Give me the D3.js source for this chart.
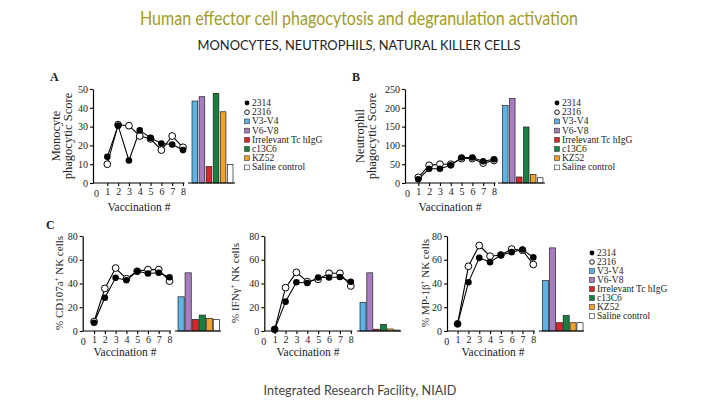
<!DOCTYPE html>
<html><head><meta charset="utf-8">
<script src="https://cdn.jsdelivr.net/npm/d3@7"></script>
<style>
html,body{margin:0;padding:0;background:#fff;}
svg{display:block;}
</style></head>
<body>
<script>
// ---------- DATA ----------
const vaccinations = [1,2,3,4,5,6,7,8];
const xTickLabels = [0,1,2,3,4,5,6,7,8];
const barCategories = ["V3-V4","V6-V8","Irrelevant Tc hIgG","c13C6","KZ52","Saline control"];
const legendLabels = ["2314","2316","V3-V4","V6-V8","Irrelevant Tc hIgG","c13C6","KZ52","Saline control"];

// Panel A: Monocyte phagocytic score
const monoTicks = [0,10,20,30,40,50];
const mono2314 = [14,30.5,12,28,24,21,20.5,17.5];
const mono2316 = [10,31,30.5,25,23.5,17.5,25,19];
const monoBars = [43.6,45.9,8.7,47.7,37.9,9.9];

// Panel B: Neutrophil phagocytic score
const neutTicks = [0,50,100,150,200,250];
const neut2314 = [10,38,38,47,68,68,58,63];
const neut2316 = [15,47,50,50,65,65,53,60];
const neutBars = [206,225,16,149,23,14];

// Panel C: NK cells
const nkTicks = [0,20,40,60,80];
const cd107a2314 = [7,28,44.8,42.8,50.3,48.4,49,45.3];
const cd107a2316 = [8,35.8,53,44,50.3,51.7,51.7,42];
const cd107aBars = [28.8,49,9.8,13.4,10.6,9.6];

const ifng2314 = [1.4,24.7,41,40.4,45,45,45.5,41.5];
const ifng2316 = [1.4,36.5,49.4,41.5,43.5,48.6,48.6,37.9];
const ifngBars = [24,49,1.5,5.6,1.7,0.8];

const mip2314 = [6,41,61.6,58,64,66.4,68.6,62];
const mip2316 = [6,54.5,72,63,64,69,68,56];
const mipBars = [42.4,70,7,13,7,7];

// ---------- STYLE ----------
const barColors = ["#5cb3e4","#a77dc0","#d9262b","#17803f","#f0a12e","#ffffff"];
const serif = "'Liberation Serif','DejaVu Serif',serif";

const W = 717, H = 419;
const svg = d3.select("body").append("svg").attr("width",W).attr("height",H);

// titles
svg.append("text").attr("x",359).attr("y",25).attr("text-anchor","middle")
  .attr("font-family","Lato,'Open Sans',sans-serif").attr("font-size",20)
  .attr("fill","#a39a1f").attr("textLength",438).attr("lengthAdjust","spacingAndGlyphs")
  .text("Human effector cell phagocytosis and degranulation activation");
svg.append("text").attr("x",359).attr("y",50).attr("text-anchor","middle")
  .attr("font-family","Lato,'Open Sans',sans-serif").attr("font-size",13)
  .attr("fill","#222").attr("textLength",323).attr("lengthAdjust","spacingAndGlyphs")
  .text("MONOCYTES, NEUTROPHILS, NATURAL KILLER CELLS");
svg.append("text").attr("x",360).attr("y",395).attr("text-anchor","middle")
  .attr("font-family","Lato,'Open Sans',sans-serif").attr("font-size",13)
  .attr("fill","#444").attr("textLength",193).attr("lengthAdjust","spacingAndGlyphs")
  .text("Integrated Research Facility, NIAID");

function panel(cfg){
  const g = svg.append("g");
  const x = d3.scaleLinear().domain([0,8]).range([cfg.x0, cfg.x8]);
  const y = d3.scaleLinear().domain([0, cfg.ticks[cfg.ticks.length-1]]).range([cfg.yBot, cfg.yTop]);

  // y axis
  const ya = g.append("g").attr("transform",`translate(${cfg.axisX},0)`)
    .call(d3.axisLeft(y).tickValues(cfg.ticks).tickSize(3).tickPadding(2).tickSizeOuter(0));
  ya.select(".domain").attr("stroke","#000").attr("stroke-width",1.2);
  ya.selectAll(".tick line").attr("stroke","#000").attr("stroke-width",1.1);
  ya.selectAll("text").attr("font-family",serif).attr("font-size",10).attr("fill","#222");

  // x axis
  const xa = g.append("g").attr("transform",`translate(0,${cfg.yBot})`)
    .call(d3.axisBottom(x).tickValues(xTickLabels.slice(1)).tickSize(3).tickPadding(2).tickSizeOuter(0).tickFormat(d3.format("d")));
  xa.select(".domain").attr("d",`M${cfg.axisX},0H${cfg.x8+1.5}`).attr("stroke","#000").attr("stroke-width",1.2);
  xa.selectAll(".tick line").attr("stroke","#000").attr("stroke-width",1.1);
  xa.selectAll("text").attr("font-family",serif).attr("font-size",10).attr("fill","#222");
  // the "0" label
  g.append("text").attr("x",x(0)).attr("y",cfg.yBot+14).attr("text-anchor","middle")
    .attr("font-family",serif).attr("font-size",10).attr("fill","#222").text(xTickLabels[0]);

  // lines
  const line = d3.line().x((d,i)=>x(vaccinations[i])).y(d=>y(d));
  g.append("path").datum(cfg.open).attr("d",line).attr("fill","none").attr("stroke","#000").attr("stroke-width",1.1);
  g.append("path").datum(cfg.filled).attr("d",line).attr("fill","none").attr("stroke","#000").attr("stroke-width",1.1);
  g.selectAll("circle.o").data(cfg.open).enter().append("circle")
    .attr("cx",(d,i)=>x(vaccinations[i])).attr("cy",d=>y(d)).attr("r",3.4)
    .attr("fill","#fff").attr("stroke","#000").attr("stroke-width",1);
  g.selectAll("circle.f").data(cfg.filled).enter().append("circle")
    .attr("cx",(d,i)=>x(vaccinations[i])).attr("cy",d=>y(d)).attr("r",3.3)
    .attr("fill","#000");

  // bars
  const xb = d3.scaleBand().domain(barCategories).range([cfg.b0,cfg.b1]).paddingInner(cfg.pad);
  g.selectAll("rect.bar").data(cfg.bars).enter().append("rect")
    .attr("x",(d,i)=>xb(barCategories[i])).attr("width",xb.bandwidth())
    .attr("y",d=>y(d)).attr("height",d=>cfg.yBot-y(d))
    .attr("fill",(d,i)=>barColors[i]).attr("stroke","#222").attr("stroke-width",0.7);
  g.append("line").attr("x1",cfg.bl0).attr("x2",cfg.bl1).attr("y1",cfg.yBot).attr("y2",cfg.yBot)
    .attr("stroke","#000").attr("stroke-width",1.2);

  // axis titles
  g.append("text").attr("x",cfg.xtX).attr("y",cfg.xtY).attr("text-anchor","middle")
    .attr("font-family",serif).attr("font-size",11.5).attr("fill","#222").text("Vaccination #");
  cfg.ylab.forEach((ln,k)=>{
    const t = g.append("text").attr("transform",`translate(${cfg.ylX[k]},${cfg.ylY}) rotate(-90)`)
      .attr("text-anchor","middle").attr("font-family",serif).attr("font-size",cfg.ylFs).attr("fill","#222");
    ln.forEach(part=>{
      const ts = t.append("tspan").text(part.t);
      if(part.sup){ ts.attr("baseline-shift","super").attr("font-size",7); }
    });
  });
  if(cfg.letter){
    g.append("text").attr("x",cfg.letter[1]).attr("y",cfg.letter[2]).attr("font-family",serif)
      .attr("font-size",12).attr("font-weight","bold").attr("fill","#222").text(cfg.letter[0]);
  }
  if(cfg.leg){ legend(cfg.leg); }
}

function legend(L){
  const g = svg.append("g");
  legendLabels.forEach((lab,i)=>{
    const yy = L.y + i*L.step;
    if(i===0){
      g.append("circle").attr("cx",L.x).attr("cy",yy-3).attr("r",2.4).attr("fill","#000");
    } else if(i===1){
      g.append("circle").attr("cx",L.x).attr("cy",yy-3).attr("r",2.3).attr("fill","#fff").attr("stroke","#000").attr("stroke-width",0.9);
    } else {
      g.append("rect").attr("x",L.x-2.4).attr("y",yy-5.4).attr("width",4.8).attr("height",4.8)
        .attr("fill",barColors[i-2]).attr("stroke","#333").attr("stroke-width",0.6);
    }
    g.append("text").attr("x",L.x+5).attr("y",yy).attr("font-family",serif).attr("font-size",L.fs)
      .attr("fill","#222").text(lab);
  });
}

panel({axisX:93,x0:96.5,x8:183,yTop:89,yBot:183,ticks:monoTicks,open:mono2316,filled:mono2314,bars:monoBars,
  b0:192,b1:233,pad:0.2,bl0:188,bl1:235,xtX:139,xtY:211,
  ylab:[[{t:"Monocyte"}],[{t:"phagocytic Score"}]],ylX:[60,72],ylY:136,ylFs:12.5,letter:["A",50,81],
  leg:{x:247,y:106,step:9.2,fs:9.5}});
panel({axisX:405,x0:407.5,x8:494,yTop:89,yBot:183,ticks:neutTicks,open:neut2316,filled:neut2314,bars:neutBars,
  b0:502.5,b1:543,pad:0.2,bl0:498,bl1:545,xtX:450,xtY:211,
  ylab:[[{t:"Neutrophil"}],[{t:"phagocytic Score"}]],ylX:[364,376],ylY:136,ylFs:12.5,letter:["B",352,81],
  leg:{x:557,y:106,step:9.2,fs:9.5}});
panel({axisX:82.7,x0:83.3,x8:169.5,yTop:236,yBot:331,ticks:nkTicks,open:cd107a2316,filled:cd107a2314,bars:cd107aBars,
  b0:178,b1:219.5,pad:0.12,bl0:175,bl1:221,xtX:125,xtY:356,
  ylab:[[{t:"% CD107a"},{t:"+",sup:true},{t:" NK cells"}]],ylX:[63],ylY:283,ylFs:11,letter:["C",46,229]});
panel({axisX:264.3,x0:263.8,x8:350.8,yTop:236,yBot:331,ticks:nkTicks,open:ifng2316,filled:ifng2314,bars:ifngBars,
  b0:360,b1:400,pad:0.12,bl0:357,bl1:401,xtX:308,xtY:356,
  ylab:[[{t:"% IFNγ"},{t:"+",sup:true},{t:" NK cells"}]],ylX:[239],ylY:283,ylFs:11});
panel({axisX:447,x0:446.8,x8:533.3,yTop:236,yBot:331,ticks:nkTicks,open:mip2316,filled:mip2314,bars:mipBars,
  b0:542.5,b1:583,pad:0.12,bl0:539,bl1:584,xtX:493,xtY:356,
  ylab:[[{t:"% MP-1β"},{t:"+",sup:true},{t:" NK cells"}]],ylX:[429],ylY:283,ylFs:11,
  leg:{x:592,y:256,step:9,fs:9.5}});
</script>
</body></html>
